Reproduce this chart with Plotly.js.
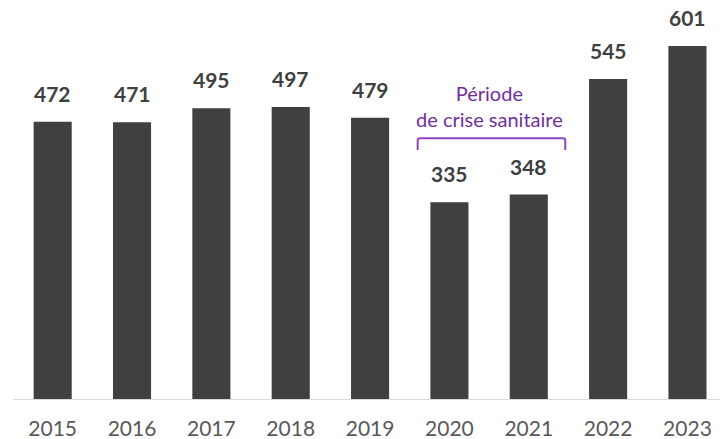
<!DOCTYPE html>
<html><head><meta charset="utf-8">
<script src="https://cdn.plot.ly/plotly-3.0.1.min.js"></script>
<style>html,body{margin:0;padding:0;background:#fff}</style>
</head><body>
<div id="chart" style="width:720px;height:439px"></div>
<script>
const years = ['2015','2016','2017','2018','2019','2020','2021','2022','2023'];
const values = [472,471,495,497,479,335,348,545,601];
const noteLines = ['Période','de crise sanitaire'];

const FONT = 'Lato, "Open Sans", sans-serif';
const trace = {
  type:'bar', x: years, y: values,
  marker:{color:'#404040'}, width:0.48,
  hoverinfo:'skip'
};
const labelAnns = values.map((v,i)=>({
  x: i, y: v, xref:'x', yref:'y',
  text: '<b>'+String(v)+'</b>', showarrow:false,
  yanchor:'bottom', yshift:14,
  font:{family:FONT, size:21, color:'#404040'}
}));
const noteAnn = {
  x: 5.5, y: 450, xref:'x', yref:'y', showarrow:false,
  text: noteLines.join('<br>'), yanchor:'bottom', yshift:2,
  font:{family:FONT, size:20, color:'#7030A0'},
  align:'center'
};
const layout = {
  width:720, height:439,
  margin:{l:13, r:0, t:0, b:40},
  paper_bgcolor:'#fff', plot_bgcolor:'#fff',
  showlegend:false,
  xaxis:{
    type:'category', range:[-0.5, 8.41],
    showline:true, linecolor:'#d9d9d9', linewidth:1.3,
    showgrid:false, zeroline:false,
    ticks:'outside', ticklen:10, tickcolor:'rgba(0,0,0,0)',
    tickfont:{family:FONT, size:21, color:'#595959'}
  },
  yaxis:{range:[0,679.3], visible:false, showgrid:false, zeroline:false},
  annotations: labelAnns.concat([noteAnn]),
  shapes:[{
    type:'path', xref:'x', yref:'y',
    path:'M 4.60 424 L 4.60 441 Q 4.60 444 4.63 444 L 6.43 444 Q 6.46 444 6.46 441 L 6.46 424',
    line:{color:'#8E44C0', width:2}
  }]
};
Plotly.newPlot('chart',[trace],layout,{staticPlot:true});
</script>
</body></html>
